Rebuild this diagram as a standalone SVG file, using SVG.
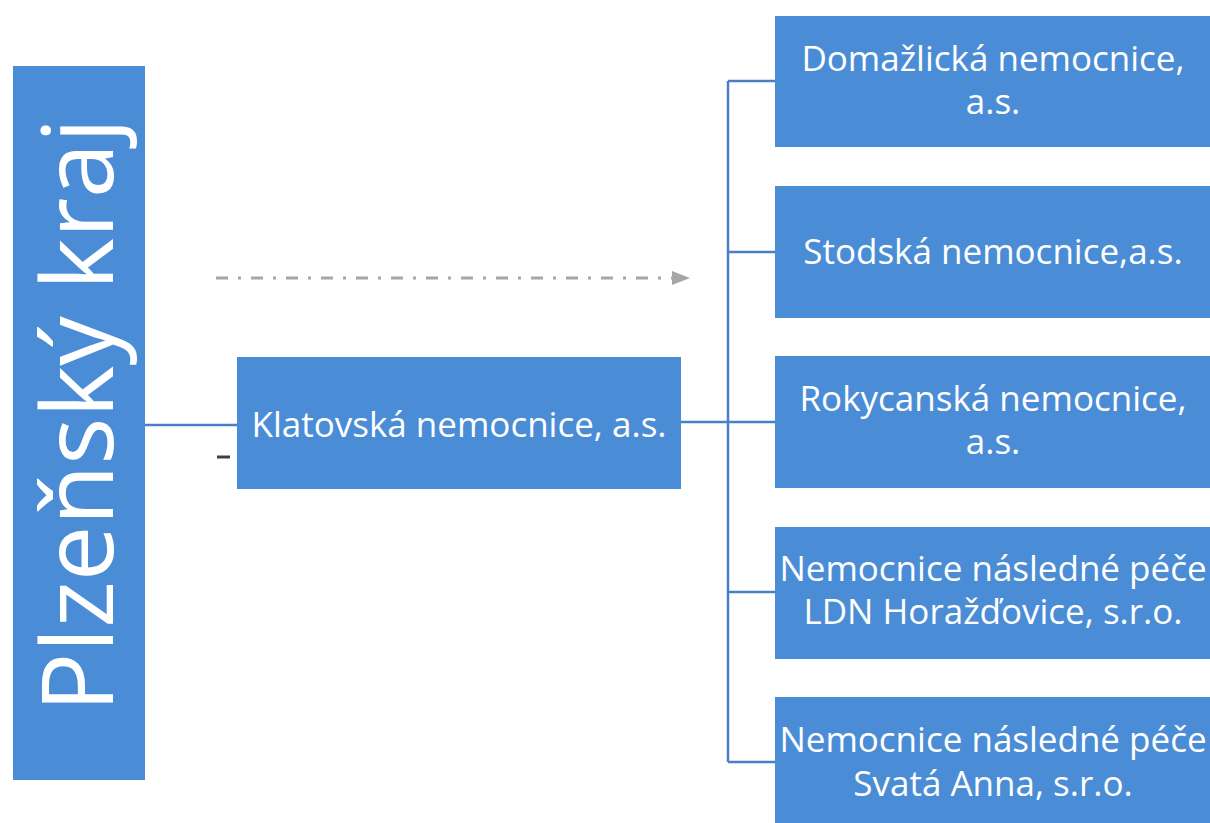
<svg xmlns="http://www.w3.org/2000/svg" width="1210" height="823" viewBox="0 0 1210 823">
<style>
.box{fill:#4a8dd6;}
.t{fill:#ffffff;font-family:"Open Sans","Noto Sans","Liberation Sans",sans-serif;font-size:35px;text-anchor:middle;}
.ln{stroke:#4a7fc4;stroke-width:2.5;fill:none;}
</style>
<rect width="1210" height="823" fill="#ffffff"/>
<g id="connectors">
<line class="ln" x1="145" y1="425" x2="237" y2="425"/>
<line class="ln" x1="681" y1="422" x2="728" y2="422"/>
<line class="ln" x1="728" y1="81" x2="728" y2="762"/>
<line class="ln" x1="728" y1="81" x2="775" y2="81"/>
<line class="ln" x1="728" y1="252" x2="775" y2="252"/>
<line class="ln" x1="728" y1="422" x2="775" y2="422"/>
<line class="ln" x1="728" y1="592" x2="775" y2="592"/>
<line class="ln" x1="728" y1="762" x2="775" y2="762"/>
<path d="M216,278 L672,278" stroke="#a6a6a6" stroke-width="3" stroke-dasharray="12 10 3 10" fill="none"/>
<path d="M672,271 L690,278 L672,285 z" fill="#a6a6a6"/>
<line x1="217" y1="457" x2="230" y2="457" stroke="#404040" stroke-width="3"/>
<line x1="240" y1="458" x2="262" y2="458" stroke="#9aaac0" stroke-width="2"/>
<path d="M262,454 L271,458 L262,462 z" fill="#b8a890"/>
</g>
<g id="plzensky-kraj">
<rect class="box" x="13" y="66" width="132" height="714"/>
<text class="t" transform="translate(113,415) rotate(-90)" style="font-size:99px">Plzeňský kraj</text>
</g>
<g id="klatovska">
<rect class="box" x="237" y="357" width="444" height="132"/>
<text class="t" x="459" y="437">Klatovská nemocnice, a.s.</text>
</g>
<g id="domazlicka">
<rect class="box" x="775" y="16" width="436" height="131"/>
<text class="t" x="993" y="71">Domažlická nemocnice,</text>
<text class="t" x="993" y="114">a.s.</text>
</g>
<g id="stodska">
<rect class="box" x="775" y="186" width="436" height="132"/>
<text class="t" x="993" y="264">Stodská nemocnice,a.s.</text>
</g>
<g id="rokycanska">
<rect class="box" x="775" y="356" width="436" height="132"/>
<text class="t" x="993" y="411">Rokycanská nemocnice,</text>
<text class="t" x="993" y="454">a.s.</text>
</g>
<g id="horazdovice">
<rect class="box" x="775" y="527" width="436" height="132"/>
<text class="t" x="993" y="581">Nemocnice následné péče</text>
<text class="t" x="993" y="624">LDN Horažďovice, s.r.o.</text>
</g>
<g id="svata-anna">
<rect class="box" x="775" y="697" width="436" height="130"/>
<text class="t" x="993" y="752">Nemocnice následné péče</text>
<text class="t" x="993" y="796">Svatá Anna, s.r.o.</text>
</g>
</svg>
